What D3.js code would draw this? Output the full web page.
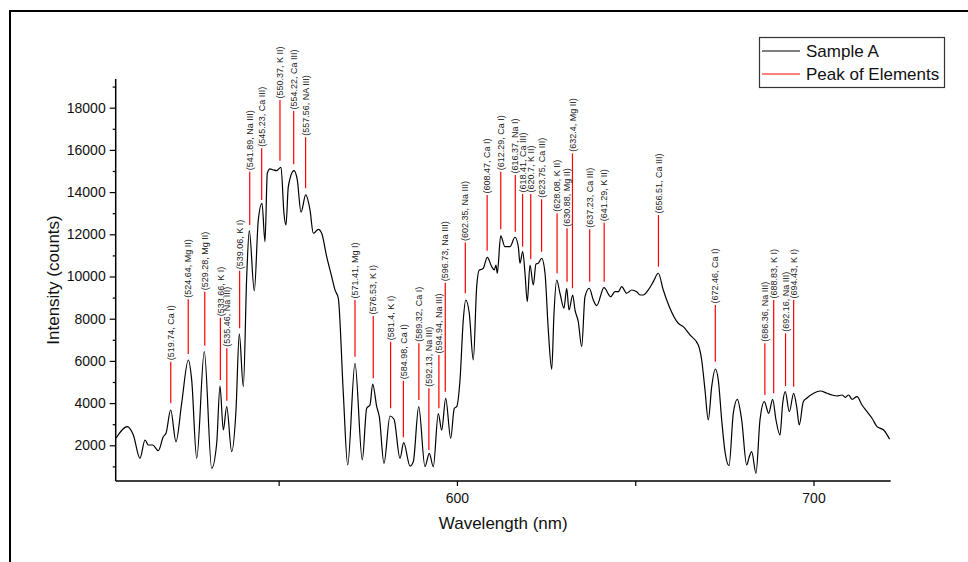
<!DOCTYPE html>
<html><head><meta charset="utf-8">
<script src="https://cdn.jsdelivr.net/npm/d3@7/dist/d3.min.js"></script>
<style>
body{margin:0;background:#fff;}
svg{display:block;font-family:Arial,"Liberation Sans",sans-serif;}
</style></head>
<body><svg id="chart" width="968" height="562"></svg>
<script>
// Spectrum: wavelength (nm) and intensity (counts)
const wavelength = [504.38,507.55,509.24,511.11,512.52,513.44,514.68,516.25,517.65,518.41,519.72,521.21,522.81,524.66,525.61,527.02,529.15,531.22,532.63,533.55,534.48,535.43,536.83,538.04,538.96,540.09,541.04,541.77,543.17,544.29,545.33,546.17,546.82,547.57,548.50,549.45,550.66,551.50,552.06,552.71,554.30,555.23,556.27,557.59,558.79,559.72,561.12,562.07,563.47,564.88,565.80,566.73,568.13,569.36,571.41,573.46,574.69,575.62,576.37,577.50,578.23,579.54,581.23,582.35,584.03,585.07,586.84,587.76,589.28,591.04,592.25,593.37,594.77,595.73,596.85,598.25,599.26,599.93,600.86,601.78,602.46,603.46,604.59,605.54,606.27,606.94,607.39,608.51,609.75,610.48,610.95,611.32,612.27,613.48,614.88,616.28,617.21,617.68,618.44,619.09,619.73,620.49,621.42,622.17,622.82,623.77,624.70,625.62,626.58,627.22,627.98,628.90,630.02,630.78,631.43,632.46,633.11,634.03,634.99,635.91,637.12,638.24,639.19,641.24,643.12,644.33,645.25,646.21,647.61,649.01,650.41,651.34,652.26,653.66,655.07,656.47,657.87,659.56,662.08,663.48,665.36,667.69,668.64,669.57,670.49,671.45,672.46,673.30,674.25,675.18,676.30,677.51,678.63,679.86,681.26,681.99,682.66,683.87,684.99,686.20,687.43,688.55,689.48,690.60,691.36,692.09,693.21,694.44,695.28,696.01,697.13,698.09,700.04,701.91,703.79,705.20,706.60,708.00,708.93,709.85,710.81,712.21,713.61,715.02,716.42,717.82,719.67,721.35];
const intensity = [2332,2882,2488,1384,2251,2014,2014,1744,2408,2569,3673,2171,4005,6043,5100,1384,6437,910,2109,4811,2725,3830,1697,3673,7276,4778,9992,12172,9314,12679,13471,11651,14893,15097,15049,15016,15177,12964,12442,14258,15016,14575,13044,13864,13153,12049,12238,12049,10940,9992,9366,8968,4479,1066,5887,1303,3754,3910,4906,3830,3356,1147,3389,3232,1384,2123,1019,1223,3830,986,1621,986,3498,2725,4228,2332,3754,3830,5095,7939,8887,8257,6043,9518,10309,10342,10390,10911,10466,10309,10546,10153,11921,11414,11414,11859,11414,10627,11177,10153,8807,10546,9598,10593,10627,10864,10153,7465,5602,8257,9835,9205,8494,9442,8413,9124,8413,7859,6674,9044,9442,8887,8617,9470,9044,9281,9281,9518,9205,9361,9281,9124,9124,9361,9755,10153,9361,8570,7783,7622,7228,6754,6043,4621,3199,4778,5617,5095,3199,1697,1033,3517,4180,3199,1066,1460,1697,673,3199,4067,3517,4180,3199,2488,3991,4541,3593,4465,3830,2962,4067,4228,4465,4574,4465,4384,4337,4384,4275,4384,4180,4304,3910,3593,3280,2882,2725,2284];

// Element peaks: wavelength, label, marker line bottom/top (counts)
const peakWavelength = [519.74,524.64,529.28,533.66,535.46,539.06,541.89,545.23,550.37,554.22,557.56,571.41,576.53,581.4,584.98,589.32,592.13,594.94,596.73,602.35,608.47,612.29,616.37,618.41,620.7,623.75,628.08,630.88,632.4,637.23,641.29,656.51,672.46,686.36,688.83,692.16,694.43];
const peakElement = ["Ca I","Mg II","Mg II","K I","Na III","K I","Na III","Ca III","K II","Ca III","NA III","Mg I","K I","K I","Ca I","Ca I","Na III","Na III","Na III","Na III","Ca I","Ca I","Na I","Ca III","K II","Ca III","K II","Mg II","Mg II","Ca III","K II","Ca III","Ca I","Na III","K I","Na III","K I"];
const peakLineBottom = [3991,6327,6720,5095,4114,7545,12440,13625,15487,15317,14180,6199,5176,3754,2379,4147,1777,3754,4540,9203,11222,12236,12123,11412,10815,11175,10151,9753,9440,9753,9753,10464,5962,4384,4464,4810,4777];
const peakLineTop = [5962,8919,9279,8047,6597,10274,14966,16075,18364,17843,16597,8886,8128,6910,5061,6834,4701,6279,9706,11611,13862,14966,14810,13910,13910,13659,12995,12284,15838,12236,12549,12915,8649,6834,8886,7308,8886];

const xTicks = [550,600,650,700];
const xTickLabels = ["","600","","700"];
const yMajorTicks = [2000,4000,6000,8000,10000,12000,14000,16000,18000];
const yMinorTicks = [1000,3000,5000,7000,9000,11000,13000,15000,17000,19000];
const legendLabels = ["Sample A","Peak of Elements"];

const svg = d3.select("#chart");
const L = 115.7, R = 890.7, T = 79, B = 481;
const x = d3.scaleLinear().domain([504.3, 721.65]).range([L, R]);
const y = d3.scaleLinear().domain([308, 19360]).range([B, T]);

// outer frame
svg.append("rect").attr("x",10).attr("y",11).attr("width",1000).attr("height",600)
  .attr("fill","none").attr("stroke","#000").attr("stroke-width",2);

// axes
const xAxis = d3.axisBottom(x).tickValues(xTicks).tickSize(5).tickPadding(7)
  .tickFormat((d,i)=>xTickLabels[i]);
const gx = svg.append("g").attr("transform",`translate(0,${B})`).call(xAxis);
gx.select(".domain").attr("d",`M${L},0H${R}`);
const yAxis = d3.axisLeft(y).tickValues(yMajorTicks).tickSize(6).tickPadding(4).tickFormat(d3.format("d"));
const gy = svg.append("g").attr("transform",`translate(${L},0)`).call(yAxis);
gy.select(".domain").attr("d",`M0,${B}V${T}`);
const yMinor = d3.axisLeft(y).tickValues(yMinorTicks).tickSize(3).tickFormat("");
const gym = svg.append("g").attr("transform",`translate(${L},0)`).call(yMinor);
gym.select(".domain").remove();
[gx,gy,gym].forEach(g=>{
  g.selectAll(".domain").attr("stroke","#000").attr("stroke-width",1.5);
  g.selectAll(".tick line").attr("stroke","#000").attr("stroke-width",1.2);
  g.selectAll("text").attr("font-size",14).attr("fill","#111").attr("font-family","Arial, 'Liberation Sans', sans-serif");
});

// axis titles
svg.append("text").attr("x",(L+R)/2).attr("y",529).attr("text-anchor","middle")
  .attr("font-size",17).attr("fill","#111").text("Wavelength (nm)");
svg.append("text").attr("transform",`translate(59,${(T+B)/2}) rotate(-90)`).attr("text-anchor","middle")
  .attr("font-size",17).attr("fill","#111").text("Intensity (counts)");

// spectrum line
const pts = wavelength.map((w,i)=>[w,intensity[i]]);
svg.append("path").datum(pts)
  .attr("d", d3.line().x(d=>x(d[0])).y(d=>y(d[1])).curve(d3.curveMonotoneX))
  .attr("fill","none").attr("stroke","#000").attr("stroke-width",1.2);

// peak markers
const peaks = peakWavelength.map((w,i)=>({w, el:peakElement[i], b:peakLineBottom[i], t:peakLineTop[i]}));
const pg = svg.append("g");
pg.selectAll("line").data(peaks).join("line")
  .attr("x1",d=>x(d.w)).attr("x2",d=>x(d.w))
  .attr("y1",d=>y(d.b)).attr("y2",d=>y(d.t))
  .attr("stroke","#ff0000").attr("stroke-width",1.2);
pg.selectAll("text").data(peaks).join("text")
  .attr("transform",d=>`translate(${x(d.w)},${y(d.t)-1.5}) rotate(-90)`)
  .attr("dy","0.35em").attr("font-size",9).attr("fill","#222")
  .text(d=>`(${d.w}, ${d.el})`);

// legend
const lg = svg.append("g");
lg.append("rect").attr("x",759.5).attr("y",37.5).attr("width",185).attr("height",50)
  .attr("fill","#fff").attr("stroke","#333").attr("stroke-width",1.2);
const lcolors = ["#000","#ff0000"];
legendLabels.forEach((t,i)=>{
  const yy = 51 + i*23;
  lg.append("line").attr("x1",762).attr("x2",800).attr("y1",yy).attr("y2",yy)
    .attr("stroke",lcolors[i]).attr("stroke-width",1.2);
  lg.append("text").attr("x",806).attr("y",yy).attr("dy","0.35em")
    .attr("font-size",17).attr("fill","#111").text(t);
});
</script></body></html>
